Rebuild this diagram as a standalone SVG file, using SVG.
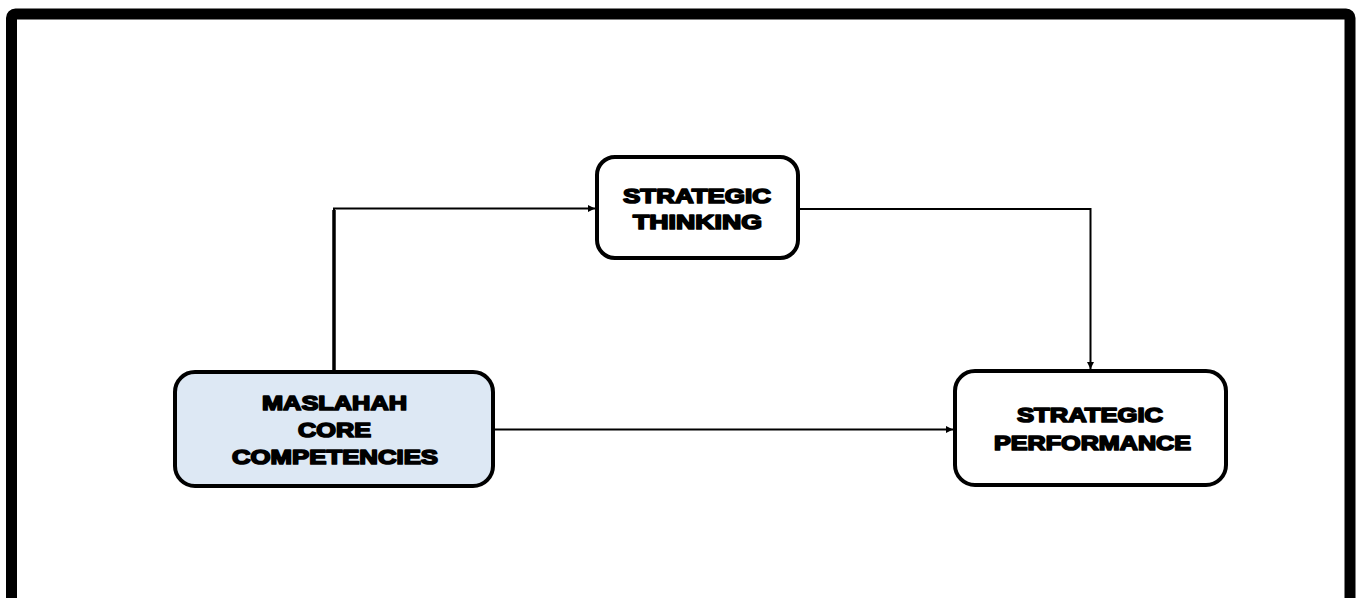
<svg xmlns="http://www.w3.org/2000/svg" width="1360" height="598" viewBox="0 0 1360 598">
<defs>
<style>
.node{fill:#fff;stroke:#000;stroke-width:4}
.lbl{font-family:"Liberation Sans",Arial,sans-serif;font-weight:bold;font-size:21px;fill:#000;stroke:#000;stroke-width:1.7;stroke-linejoin:round;text-anchor:middle}
.conn{fill:none;stroke:#000}
</style>
<marker id="ah" markerWidth="8" markerHeight="8" refX="7" refY="4" orient="auto" markerUnits="userSpaceOnUse">
<path d="M0,0.5 L7,4 L0,7.5 Z" fill="#000"/>
</marker>
</defs>
<rect x="0" y="0" width="1360" height="598" fill="#fff"/>
<rect x="11.5" y="14" width="1338.5" height="600" rx="4" fill="none" stroke="#000" stroke-width="11"/>
<g id="connectors">
<path class="conn" d="M334,371 V208.5 H595" stroke-width="2" marker-end="url(#ah)"/>
<path class="conn" d="M334,371 V210" stroke-width="3.5"/>
<path class="conn" d="M800,209 H1090.5 V369" stroke-width="2" marker-end="url(#ah)"/>
<path class="conn" d="M495,429.5 H953" stroke-width="2" marker-end="url(#ah)"/>
</g>
<g id="maslahah">
<rect class="node" x="175" y="372" width="318" height="114" rx="20" style="fill:#dde8f4"/>
<text class="lbl" x="334.5" y="410" textLength="145" lengthAdjust="spacingAndGlyphs">MASLAHAH</text>
<text class="lbl" x="334.5" y="437" textLength="73" lengthAdjust="spacingAndGlyphs">CORE</text>
<text class="lbl" x="335" y="464" textLength="206" lengthAdjust="spacingAndGlyphs">COMPETENCIES</text>
</g>
<g id="thinking">
<rect class="node" x="597" y="157" width="201" height="101" rx="18"/>
<text class="lbl" x="697" y="203" textLength="148" lengthAdjust="spacingAndGlyphs">STRATEGIC</text>
<text class="lbl" x="697.5" y="229" textLength="129" lengthAdjust="spacingAndGlyphs">THINKING</text>
</g>
<g id="performance">
<rect class="node" x="955" y="371" width="271" height="114" rx="20"/>
<text class="lbl" x="1090" y="422" textLength="146" lengthAdjust="spacingAndGlyphs">STRATEGIC</text>
<text class="lbl" x="1092.5" y="450" textLength="197" lengthAdjust="spacingAndGlyphs">PERFORMANCE</text>
</g>
</svg>
